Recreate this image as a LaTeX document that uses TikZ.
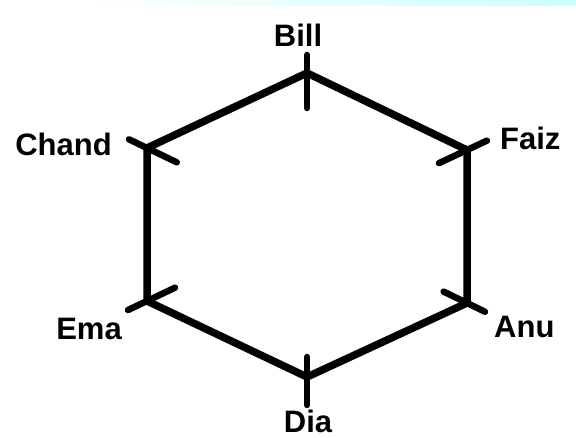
\documentclass[tikz,border=0pt]{standalone}
\usepackage{fontspec}
\setmainfont{Liberation Sans}
\usetikzlibrary{positioning, calc}

\begin{document}
\begin{tikzpicture}[
    x=1pt, y=-1pt,
    ring/.style={line width=7.5pt, line join=round},
    spoke/.style={line width=6.5pt, line cap=round},
    tag/.style={inner sep=0pt, font=\fontsize{31}{37}\selectfont\bfseries}
  ]
  \useasboundingbox (0,0) rectangle (576,438);
  \fill[left color=white, right color=cyan!20] (80,0) rectangle (576,6);

  % corners of the seating ring
  \coordinate (bill)  at (307,73);
  \coordinate (faiz)  at (467,150);
  \coordinate (anu)   at (467,303);
  \coordinate (dia)   at (307,377);
  \coordinate (ema)   at (147,301);
  \coordinate (chand) at (147,148);
  \coordinate (mid)   at (307,225);

  \draw[ring] (bill) -- (faiz) -- (anu) -- (dia) -- (ema) -- (chand) -- cycle;

  % short strokes through each corner
  \draw[spoke] ($(bill)!-18pt!(mid)$)  -- ($(bill)!35pt!(mid)$);
  \draw[spoke] ($(faiz)!-22pt!(mid)$)  -- ($(faiz)!31pt!(mid)$);
  \draw[spoke] ($(anu)!-20pt!(mid)$)   -- ($(anu)!26pt!(mid)$);
  \draw[spoke] ($(dia)!-28pt!(mid)$)   -- ($(dia)!20pt!(mid)$);
  \draw[spoke] ($(ema)!-21pt!(mid)$)   -- ($(ema)!31pt!(mid)$);
  \draw[spoke] ($(chand)!-20pt!(mid)$) -- ($(chand)!33pt!(mid)$);

  \node[tag, above=26pt of bill, xshift=-9pt] (lbill) {Bill};
  \node[tag, right=33pt of faiz, yshift=12pt] (lfaiz) {Faiz};
  \node[tag, below right=13pt and 27pt of anu] (lanu) {Anu};
  \node[tag, below=33pt of dia, xshift=1pt] (ldia) {Dia};
  \node[tag, below left=17pt and 25pt of ema] (lema) {Ema};
  \node[tag, left=35pt of chand, yshift=4pt] (lchand) {Chand};
\end{tikzpicture}
\end{document}
